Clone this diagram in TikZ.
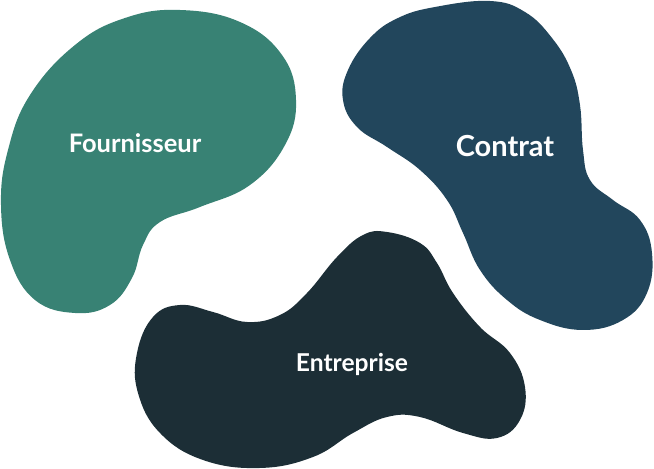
\documentclass[tikz,border=0pt]{standalone}
\usepackage{fontspec}
\setmainfont{Lato}
\usepackage{tikz}
\definecolor{blobgreen}{RGB}{56,130,116}
\definecolor{blobblue}{RGB}{34,70,92}
\definecolor{blobdark}{RGB}{28,46,54}
\tikzset{
  blob/.style={fill=#1,draw=none},
  lbl/.style={text=white,font=\fontsize{#1}{#1}\selectfont\bfseries,inner sep=0pt},
  lbl/.default=14,
}
\begin{document}
\begin{tikzpicture}[x=0.02cm,y=-0.02cm]
  \useasboundingbox (0,0) rectangle (654,469);

  % ── Fournisseur blob
  \fill[blob=blobgreen] plot[smooth cycle,tension=0.7] coordinates {
    (180,10) (240,22) (282,55) (296,100) (285,145) (250,185) (200,207)
    (160,222) (143,245) (132,278) (110,305) (75,313) (35,300) (10,260)
    (1,205) (8,150) (30,95) (75,45) (125,18)};

  % ── Contrat blob
  \fill[blob=blobblue] plot[smooth cycle,tension=0.7] coordinates {
    (435,7) (490,1) (525,12) (552,38) (571,70) (580,105) (583,150) (590,180)
    (613,200) (640,220) (652,253) (647,293) (623,320) (583,330) (540,320)
    (507,300) (480,270) (463,233) (447,200) (420,170) (387,147) (357,127)
    (343,100) (348,70) (370,38) (398,18)};

  % ── Entreprise blob
  \fill[blob=blobdark] plot[smooth cycle,tension=0.7] coordinates {
    (387,232) (420,243) (437,263) (453,293) (480,327) (510,353) (525,387)
    (520,420) (497,438) (463,433) (420,417) (387,417) (353,433) (313,457)
    (260,468) (203,460) (160,433) (138,393) (137,353) (153,317) (180,305)
    (213,312) (247,322) (280,315) (307,293) (337,257) (363,235)};

  % ── Labels
  \node[lbl=14.5] (fourn)   at (135,143) {Fournisseur};
  \node[lbl=16.5] (contrat) at (505,146) {Contrat};
  \node[lbl=14]   (entrep)  at (352,364) {Entreprise};
\end{tikzpicture}
\end{document}
